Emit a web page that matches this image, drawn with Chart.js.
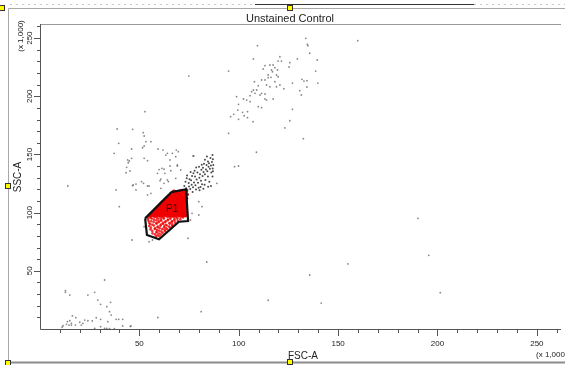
<!DOCTYPE html>
<html>
<head>
<meta charset="utf-8">
<title>Unstained Control</title>
<script src="https://cdn.jsdelivr.net/npm/chart.js"></script>
<style>
    html, body { margin: 0; padding: 0; background: #fff; }
    canvas { display: block; }
</style>
</head>
<body>
<canvas id="facsChart" width="565" height="365"></canvas>
<script>
// valores em milhares (x 1,000)
const AXIS_MAX = 262.144;
const xMajorTicks = [50, 100, 150, 200, 250];
const xMinorTicks = [10, 20, 30, 40, 60, 70, 80, 90, 110, 120, 130, 140, 160, 170, 180, 190, 210, 220, 230, 240, 260];
const yMajorTicks = [50, 100, 150, 200, 250];
const yMinorTicks = [10, 20, 30, 40, 60, 70, 80, 90, 110, 120, 130, 140, 160, 170, 180, 190, 210, 220, 230, 240, 260];

const chartTitle = 'Unstained Control';
const xAxisTitle = 'FSC-A';
const yAxisTitle = 'SSC-A';
const unitLabel = '(x 1,000)';
const gateName = 'P1';

// gate P1 (FSC-A, SSC-A)
const gateVertices = [
    [52.9, 95.1], [53.8, 80.8], [59.9, 77.1], [69.9, 92.2],
    [74.5, 92.8], [73.5, 120.1], [66.2, 117.7], [52.9, 95.1]
];
const gateLabelPos = [66.5, 103];

// eventos fora do gate
const grayEvents = [
    [133.7, 249.8], [134.5, 244.7], [134.8, 243.5], [135.7, 237.0], [109.4, 243.5], [159.9, 247.8],
    [139.5, 231.2], [138.7, 221.7], [139.8, 211.4], [129.5, 232.1], [107.4, 232.1], [94.9, 221.7],
    [120.7, 234.0], [119.8, 230.3], [121.5, 230.3], [125.7, 228.9], [125.3, 225.2], [131.8, 214.6],
    [134.3, 213.4], [132.8, 213.1], [134.3, 208.0], [127.0, 211.4], [130.7, 204.8], [131.5, 201.1],
    [122.7, 206.5], [127.0, 188.8], [125.7, 179.0], [123.2, 172.8], [132.5, 163.6], [108.9, 151.9],
    [97.9, 139.5], [99.9, 140.1], [94.9, 168.2], [190.2, 95.1], [107.2, 178.2], [98.9, 199.7],
    [99.9, 193.1], [99.5, 188.2], [95.9, 182.5], [97.5, 184.5], [99.9, 180.2], [101.9, 186.2],
    [102.7, 183.3], [104.4, 181.6], [104.4, 186.8], [102.4, 197.7], [104.0, 196.8], [105.7, 200.5],
    [106.5, 204.0], [107.4, 205.4], [108.2, 202.6], [109.0, 205.4], [109.8, 209.1], [110.7, 201.1],
    [111.5, 202.6], [109.8, 191.1], [111.5, 190.2], [113.2, 197.7], [114.0, 196.8], [113.2, 202.0],
    [111.5, 214.0], [113.2, 214.0], [114.0, 209.7], [115.7, 208.2], [116.2, 216.3], [114.8, 218.3],
    [116.5, 222.6], [117.3, 226.9], [115.7, 226.9], [113.2, 226.3], [118.2, 224.6], [119.0, 218.3],
    [119.8, 216.8], [118.2, 212.5], [120.7, 209.7], [119.0, 208.2], [117.0, 221.1], [107.9, 212.5],
    [105.7, 195.4], [117.3, 197.7], [112.3, 223.5], [119.5, 222.6], [114.8, 216.0], [74.9, 217.4],
    [52.8, 186.8], [38.8, 171.9], [46.6, 171.6], [51.9, 168.7], [52.4, 165.9], [53.3, 161.0],
    [55.8, 161.0], [39.6, 159.6], [52.4, 157.3], [51.6, 155.8], [46.1, 154.7], [37.3, 151.0],
    [59.4, 154.7], [61.9, 153.8], [64.1, 151.0], [63.3, 149.5], [66.6, 151.0], [68.6, 153.8],
    [69.6, 152.4], [77.0, 148.7], [52.4, 146.7], [54.1, 144.7], [46.1, 146.7], [44.9, 144.4],
    [44.4, 142.9], [65.4, 145.3], [43.6, 139.0], [61.3, 138.1], [62.4, 137.3], [65.4, 140.1],
    [69.1, 140.1], [70.8, 136.7], [45.3, 135.8], [43.3, 134.3], [62.8, 133.8], [65.8, 136.0],
    [60.8, 128.9], [60.4, 127.5], [64.6, 126.6], [51.1, 126.6], [52.1, 125.2], [48.3, 124.6],
    [46.6, 123.2], [54.1, 122.9], [60.8, 120.9], [44.1, 145.3], [46.9, 123.8], [54.9, 122.9],
    [38.3, 119.5], [39.9, 105.1], [54.1, 115.2], [55.8, 116.6], [48.3, 119.5], [68.3, 148.1],
    [77.4, 148.7], [59.9, 137.0], [59.1, 133.8], [62.4, 125.2], [64.1, 128.1], [69.1, 141.0],
    [68.3, 129.5], [46.3, 76.5], [52.4, 87.9], [54.9, 75.0], [56.6, 76.5], [74.5, 78.0],
    [89.0, 125.2], [79.9, 109.4], [81.5, 105.1], [76.5, 99.4], [79.9, 98.0], [75.7, 93.7],
    [14.0, 122.9], [83.9, 57.6],
    [195.6, 63.3], [154.9, 55.9], [135.7, 46.4], [114.8, 24.7], [141.5, 22.3], [201.4, 31.2],
    [32.5, 42.1], [12.8, 32.9], [12.8, 31.5], [15.0, 29.2], [24.1, 29.2], [27.5, 31.5],
    [29.1, 24.9], [30.5, 21.2], [33.6, 19.2], [35.5, 22.9], [35.0, 14.9], [35.8, 12.0],
    [16.3, 11.2], [18.0, 9.7], [28.3, 9.7], [30.5, 8.3], [38.3, 8.3], [39.6, 8.3],
    [41.6, 8.3], [13.8, 6.3], [15.0, 7.1], [15.8, 4.9], [20.0, 5.8], [21.6, 4.9],
    [22.5, 7.7], [24.1, 7.1], [26.3, 6.9], [34.1, 6.3], [11.6, 2.8], [13.3, 4.0],
    [14.6, 3.4], [15.8, 3.4], [17.8, 3.4], [20.8, 3.4], [11.1, 1.5], [27.5, 0.5],
    [32.5, 0.5], [33.6, 0.5], [35.0, 0.3], [37.4, 0.2], [41.6, 2.6], [45.8, 2.6],
    [30.5, 2.0], [59.3, 9.9], [81.1, 14.9], [45.4, 2.2]
];

// nuvem densa logo acima/direita do gate
const clusterEvents = [
    [72.8, 118.5], [73.5, 121.0], [74.2, 119.5], [75.0, 122.5], [75.6, 120.3], [76.3, 124.0],
    [74.8, 125.5], [77.0, 121.8], [77.5, 126.0], [78.2, 123.5], [76.0, 127.8], [78.8, 128.5],
    [79.5, 125.8], [80.2, 130.0], [78.0, 131.0], [81.0, 127.5], [80.5, 133.0], [81.8, 131.5],
    [82.3, 135.0], [79.2, 134.5], [83.0, 133.0], [83.5, 137.0], [82.0, 138.5], [84.2, 135.5],
    [84.8, 139.5], [81.2, 136.8], [85.5, 137.8], [83.8, 141.0], [85.0, 142.5], [86.0, 140.5],
    [84.5, 144.0], [86.5, 143.5], [83.0, 145.5], [87.0, 146.0], [85.8, 147.0], [82.5, 142.0],
    [80.0, 139.5], [77.8, 136.0], [76.5, 131.5], [75.2, 128.8], [74.0, 132.0], [73.2, 126.5],
    [79.8, 121.5], [81.5, 124.5], [83.2, 128.0], [84.5, 131.0], [86.2, 134.5], [86.9, 138.0],
    [87.2, 141.0], [76.8, 117.8], [78.5, 119.8], [80.8, 122.0], [74.5, 115.5], [72.6, 122.8],
    [85.2, 126.5], [82.8, 124.0], [86.8, 131.0], [87.0, 135.5], [86.8, 149.5], [84.0, 148.3],
    [81.4, 141.2], [78.6, 138.8], [77.2, 133.8], [75.8, 135.0], [73.8, 129.6], [80.3, 119.2],
    [82.2, 120.5], [86.0, 123.0], [84.6, 122.2]
];

// eventos dentro do gate P1 - miolo denso
const gateCoreEvents = [
    [67.4, 118.2], [69.1, 117.8], [70.7, 118.4], [72.2, 117.9], [73.5, 118.5],
    [65.9, 116.1], [67.6, 115.8], [69.3, 116.3], [70.8, 115.9], [72.6, 116.2], [73.8, 115.7],
    [64.7, 114.2], [66.3, 113.8], [68.0, 114.3], [69.6, 113.9], [71.3, 114.1], [72.9, 113.7],
    [63.7, 112.4], [65.4, 112.7], [67.1, 112.3], [68.7, 112.6], [70.3, 112.2], [71.9, 112.8], [73.6, 112.4],
    [62.9, 110.9], [64.5, 111.2], [66.2, 110.8], [67.8, 111.1], [69.4, 110.9], [71.1, 111.2], [72.7, 110.8],
    [61.9, 109.4], [63.6, 109.7], [65.2, 109.3], [66.9, 109.6], [68.5, 109.4], [70.2, 109.7], [71.8, 109.3], [73.4, 109.6],
    [61.1, 108.1], [62.7, 107.8], [64.4, 108.2], [66.0, 107.9], [67.7, 108.1], [69.3, 107.8], [71.0, 108.2], [72.6, 107.9],
    [60.3, 106.4], [61.9, 106.7], [63.5, 106.3], [65.2, 106.6], [66.8, 106.4], [68.5, 106.7], [70.1, 106.3], [71.8, 106.6], [73.3, 106.4],
    [59.4, 105.1], [61.0, 104.8], [62.7, 105.2], [64.3, 104.9], [66.0, 105.1], [67.6, 104.8], [69.3, 105.2], [70.9, 104.9], [72.6, 105.1],
    [58.6, 103.4], [60.2, 103.7], [61.8, 103.3], [63.5, 103.6], [65.1, 103.4], [66.8, 103.7], [68.4, 103.3], [70.1, 103.6], [71.7, 103.4], [73.3, 103.6],
    [57.8, 102.1], [59.3, 101.8], [61.0, 102.2], [62.6, 101.9], [64.3, 102.1], [65.9, 101.8], [67.6, 102.2], [69.2, 101.9], [70.9, 102.1], [72.5, 101.8],
    [57.0, 100.4], [58.5, 100.7], [60.1, 100.3], [61.8, 100.6], [63.4, 100.4], [65.1, 100.7], [66.7, 100.3], [68.4, 100.6], [70.0, 100.4], [71.7, 100.7], [73.2, 100.4],
    [56.3, 98.9], [57.7, 99.2], [59.3, 98.8], [60.9, 99.1], [62.6, 98.9], [64.2, 99.2], [65.9, 98.8], [67.5, 99.1], [69.2, 98.9], [70.8, 99.2], [72.4, 98.8],
    [55.5, 97.4], [57.0, 97.7], [58.4, 97.3], [60.0, 97.6], [61.7, 97.4], [63.3, 97.7], [65.0, 97.3], [66.6, 97.6], [68.3, 97.4], [69.9, 97.7], [71.6, 97.3], [73.1, 97.6]
];

// eventos dentro do gate P1 - parte de baixo, mais espalhada
const gateSparseEvents = [
    [54.4, 96.1], [55.6, 95.5], [57.5, 96.2], [58.8, 95.7], [60.8, 96.1], [62.2, 95.6], [64.1, 96.2], [65.8, 95.9], [67.4, 96.1], [69.1, 95.8], [70.7, 96.2], [72.0, 95.9],
    [54.3, 94.4], [56.3, 94.9], [57.4, 94.0], [59.6, 94.8], [60.9, 94.2], [62.3, 94.9], [64.4, 94.1], [65.6, 94.7], [67.7, 94.4], [69.1, 94.7], [70.6, 94.3],
    [54.6, 93.1], [56.0, 92.6], [58.6, 93.4], [59.9, 92.6], [61.0, 93.0], [63.2, 92.5], [64.3, 93.4], [66.4, 92.7], [67.6, 93.3], [69.3, 92.8],
    [54.9, 91.4], [57.2, 91.9], [58.5, 91.1], [59.6, 91.8], [61.8, 91.2], [62.9, 91.9], [65.1, 91.1], [66.2, 91.8], [68.0, 91.4],
    [55.4, 90.3], [56.5, 89.6], [58.7, 90.4], [60.8, 89.7], [61.9, 90.3], [63.2, 89.6], [65.3, 90.4], [66.6, 89.9],
    [55.0, 88.6], [57.3, 88.9], [59.3, 88.1], [60.6, 88.8], [62.6, 88.2], [63.9, 88.9], [65.0, 88.1], [66.5, 88.6],
    [55.8, 87.3], [57.9, 86.6], [59.2, 87.4], [60.2, 86.7], [62.4, 87.3], [63.5, 86.6], [65.3, 87.2],
    [55.6, 85.6], [57.8, 85.9], [58.9, 85.1], [61.5, 85.8], [62.7, 85.2], [64.0, 85.7],
    [56.5, 84.3], [58.6, 83.6], [59.9, 84.4], [61.0, 83.7], [62.9, 84.1],
    [56.6, 82.2], [58.7, 82.9], [59.8, 82.1], [61.7, 82.6],
    [57.8, 81.3], [59.1, 80.6], [60.8, 81.2],
    [58.4, 79.4], [60.1, 79.7]
];

const FONT = '"Liberation Sans", Arial, sans-serif';

function toPoints(list) {
    return list.map(p => ({ x: p[0], y: p[1] }));
}

// eixos, ticks, titulos e moldura no estilo FACSDiva
const facsDecor = {
    id: 'facsDecor',
    afterDraw(chart) {
        const { ctx, chartArea: area, scales } = chart;
        const sx = scales.x;
        const sy = scales.y;
        const W = chart.width;
        ctx.save();

        // moldura externa
        ctx.strokeStyle = '#a8a8a8';
        ctx.lineWidth = 1;
        ctx.beginPath();
        ctx.moveTo(8.5, 8.5); ctx.lineTo(W, 8.5);
        ctx.moveTo(8.5, 8.5); ctx.lineTo(8.5, 362.5);
        ctx.stroke();
        ctx.strokeStyle = '#8c8c8c';
        ctx.lineWidth = 2;
        ctx.beginPath();
        ctx.moveTo(8, 362.5); ctx.lineTo(W, 362.5);
        ctx.stroke();

        ctx.setLineDash([2, 4]);
        ctx.strokeStyle = '#c8c8c8';
        ctx.lineWidth = 1;
        ctx.beginPath();
        ctx.moveTo(10, 4.5); ctx.lineTo(255, 4.5);
        ctx.moveTo(474, 4.5); ctx.lineTo(W, 4.5);
        ctx.stroke();
        ctx.setLineDash([]);
        ctx.strokeStyle = '#333';
        ctx.beginPath();
        ctx.moveTo(255, 4.5); ctx.lineTo(474, 4.5);
        ctx.stroke();

        // eixos
        ctx.strokeStyle = '#9a9a9a';
        ctx.beginPath();
        ctx.moveTo(area.left, area.top + 0.5); ctx.lineTo(area.right, area.top + 0.5);
        ctx.stroke();
        ctx.strokeStyle = '#555';
        ctx.beginPath();
        ctx.moveTo(area.left + 0.5, area.top); ctx.lineTo(area.left + 0.5, area.bottom + 0.5);
        ctx.lineTo(area.right, area.bottom + 0.5);
        ctx.stroke();

        ctx.beginPath();
        xMinorTicks.forEach(v => {
            const px = Math.round(sx.getPixelForValue(v)) + 0.5;
            ctx.moveTo(px, area.bottom); ctx.lineTo(px, area.bottom + 4);
        });
        xMajorTicks.forEach(v => {
            const px = Math.round(sx.getPixelForValue(v)) + 0.5;
            ctx.moveTo(px, area.bottom); ctx.lineTo(px, area.bottom + 7);
        });
        yMinorTicks.forEach(v => {
            const py = Math.round(sy.getPixelForValue(v)) + 0.5;
            ctx.moveTo(area.left, py); ctx.lineTo(area.left - 3, py);
        });
        yMajorTicks.forEach(v => {
            const py = Math.round(sy.getPixelForValue(v)) + 0.5;
            ctx.moveTo(area.left, py); ctx.lineTo(area.left - 6, py);
        });
        ctx.stroke();

        // rotulos
        ctx.fillStyle = '#222';
        ctx.font = '8px ' + FONT;
        ctx.textAlign = 'center';
        ctx.textBaseline = 'middle';
        xMajorTicks.forEach(v => {
            ctx.fillText(String(v), sx.getPixelForValue(v), area.bottom + 15);
        });
        yMajorTicks.forEach(v => {
            ctx.save();
            ctx.translate(30, sy.getPixelForValue(v));
            ctx.rotate(-Math.PI / 2);
            ctx.fillText(String(v), 0, 0);
            ctx.restore();
        });

        ctx.save();
        ctx.translate(21, 36);
        ctx.rotate(-Math.PI / 2);
        ctx.fillText(unitLabel, 0, 0);
        ctx.restore();

        ctx.textAlign = 'left';
        ctx.fillText(unitLabel, 536, 355);

        ctx.font = '10px ' + FONT;
        ctx.fillText(xAxisTitle, 288, 356);
        ctx.save();
        ctx.translate(18, 177);
        ctx.rotate(-Math.PI / 2);
        ctx.textAlign = 'center';
        ctx.fillText(yAxisTitle, 0, 0);
        ctx.restore();

        ctx.font = '11px ' + FONT;
        ctx.textAlign = 'center';
        ctx.fillText(chartTitle, 290, 19);

        // nome do gate
        ctx.font = '10px ' + FONT;
        ctx.fillStyle = '#3a0000';
        ctx.fillText(gateName, sx.getPixelForValue(gateLabelPos[0]), sy.getPixelForValue(gateLabelPos[1]));

        // alcas amarelas de selecao
        ctx.fillStyle = '#ffff00';
        ctx.strokeStyle = '#333';
        ctx.lineWidth = 1;
        [[290, 8], [290, 362], [8, 186], [2, 8], [8, 363]].forEach(h => {
            ctx.fillRect(h[0] - 3, h[1] - 3, 6, 6);
            ctx.strokeRect(h[0] - 3 + 0.5, h[1] - 3 + 0.5, 5, 5);
        });

        ctx.restore();
    }
};

document.addEventListener('DOMContentLoaded', () => {
    const ctx = document.getElementById('facsChart').getContext('2d');

    new Chart(ctx, {
        type: 'scatter',
        data: {
            datasets: [
                {
                    label: 'Gate P1',
                    data: toPoints(gateVertices),
                    showLine: true,
                    fill: false,
                    borderColor: '#111',
                    borderWidth: 2.2,
                    pointRadius: 0,
                    tension: 0
                },
                {
                    label: 'P1 core',
                    data: toPoints(gateCoreEvents),
                    backgroundColor: '#f00000',
                    borderWidth: 0,
                    pointRadius: 2
                },
                {
                    label: 'P1 sparse',
                    data: toPoints(gateSparseEvents),
                    backgroundColor: 'rgba(240, 0, 0, 0.8)',
                    borderWidth: 0,
                    pointRadius: 1.3
                },
                {
                    label: 'Cluster',
                    data: toPoints(clusterEvents),
                    backgroundColor: 'rgba(30, 30, 30, 0.8)',
                    borderWidth: 0,
                    pointRadius: 1
                },
                {
                    label: 'Eventos',
                    data: toPoints(grayEvents),
                    backgroundColor: 'rgba(85, 85, 85, 0.7)',
                    borderWidth: 0,
                    pointRadius: 0.9
                }
            ]
        },
        options: {
            responsive: false,
            animation: false,
            devicePixelRatio: 1,
            layout: { padding: { left: 40, right: 0, top: 24, bottom: 36 } },
            scales: {
                x: { type: 'linear', min: 0, max: AXIS_MAX, display: false },
                y: { type: 'linear', min: 0, max: AXIS_MAX, display: false }
            },
            plugins: {
                legend: { display: false },
                tooltip: { enabled: false },
                title: { display: false }
            }
        },
        plugins: [facsDecor]
    });
});
</script>
</body>
</html>
